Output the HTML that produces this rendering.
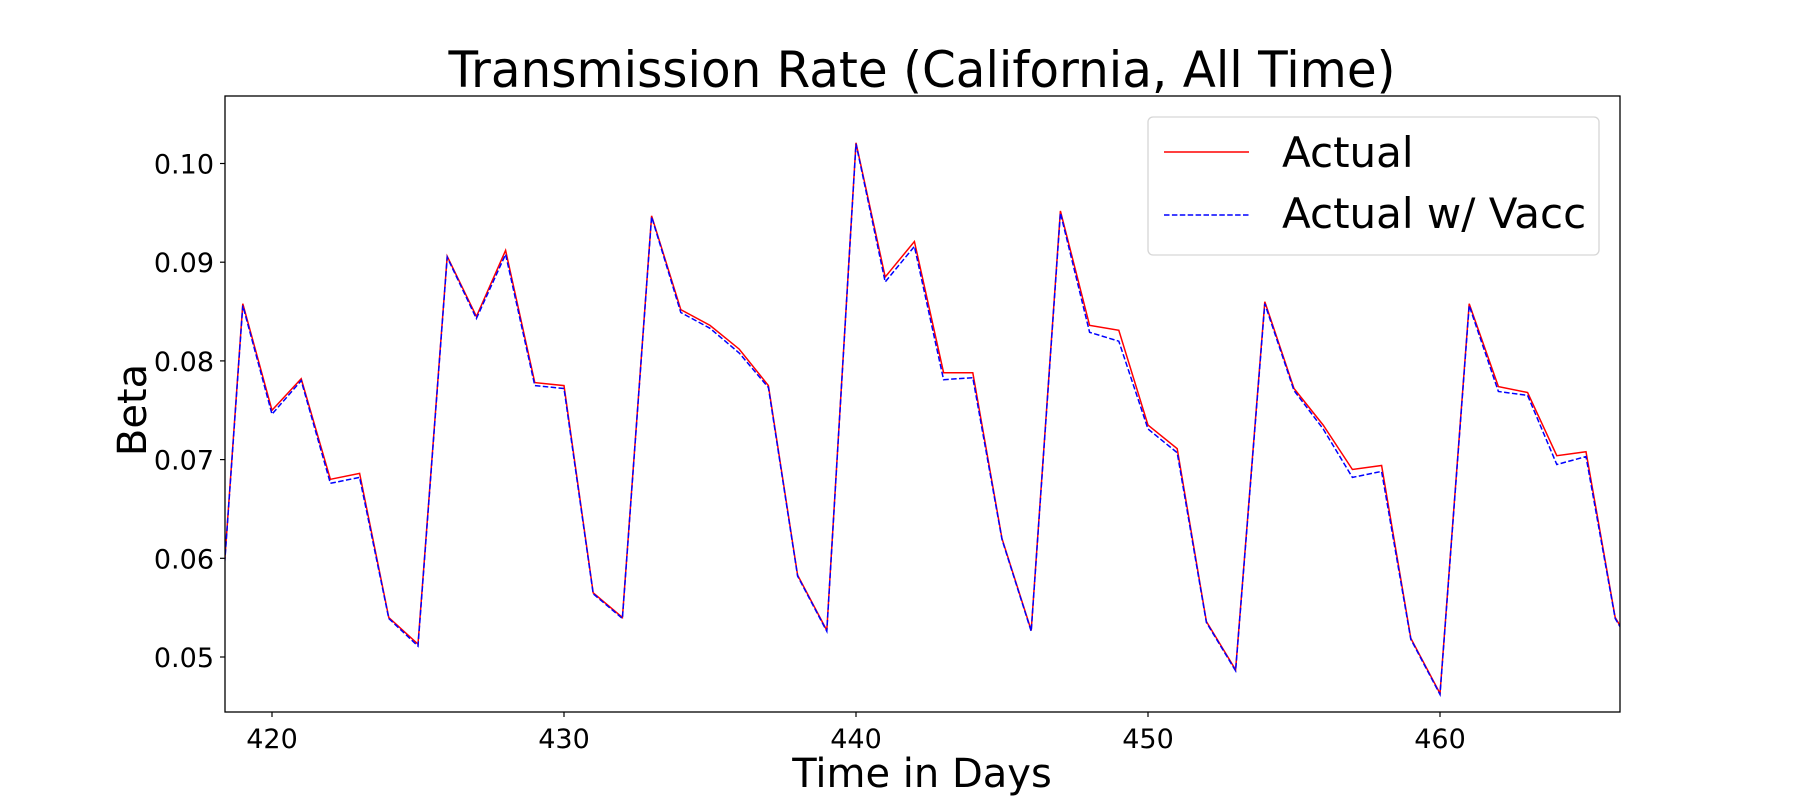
<!DOCTYPE html>
<html><head><meta charset="utf-8"><style>
html,body{margin:0;padding:0;background:#fff;}
svg text{font-family:"DejaVu Sans","Liberation Sans",sans-serif;fill:#000;}
</style></head><body>
<svg id="chart" width="1800" height="800" viewBox="0 0 1800 800" xmlns="http://www.w3.org/2000/svg">
<rect width="1800" height="800" fill="#fff"/>
<text x="922" y="87" font-size="50" text-anchor="middle" textLength="947" lengthAdjust="spacingAndGlyphs">Transmission Rate (California, All Time)</text>
<defs><clipPath id="plotclip"><rect x="225" y="96" width="1395" height="616"/></clipPath></defs>
<g id="xticks"></g>
<g id="yticks"></g>
<g id="series" clip-path="url(#plotclip)"></g>
<rect x="225" y="96" width="1395" height="616" fill="none" stroke="#000" stroke-width="1.3"/>
<text x="922" y="787" font-size="40" text-anchor="middle">Time in Days</text>
<text x="0" y="0" font-size="40" text-anchor="middle" transform="translate(146,410) rotate(-90)">Beta</text>
<g>
<rect x="1148" y="117" width="451" height="138" rx="5" fill="#fff" fill-opacity="0.8" stroke="#d6d6d6" stroke-width="1.3"/>
<line x1="1164" y1="152" x2="1249" y2="152" stroke="red" stroke-width="1.5"/>
<text x="1282" y="167" font-size="42">Actual</text>
<line x1="1164" y1="215" x2="1249" y2="215" stroke="blue" stroke-width="1.5" stroke-dasharray="5.5,2.4"/>
<text x="1282" y="228" font-size="42">Actual w/ Vacc</text>
</g>
</svg>
<script>
const days = [418,419,420,421,422,423,424,425,426,427,428,429,430,431,432,433,434,435,436,437,438,439,440,441,442,443,444,445,446,447,448,449,450,451,452,453,454,455,456,457,458,459,460,461,462,463,464,465,466,467];
const actual = [0.0437,0.0858,0.0750,0.0782,0.0680,0.0686,0.0540,0.0513,0.0906,0.0845,0.0912,0.0778,0.0775,0.0565,0.0540,0.0947,0.0852,0.0836,0.0812,0.0775,0.0583,0.0527,0.1021,0.0885,0.0921,0.0788,0.0788,0.0620,0.0527,0.0952,0.0836,0.0831,0.0735,0.0711,0.0536,0.0487,0.0860,0.0772,0.0735,0.0690,0.0694,0.0519,0.0463,0.0858,0.0774,0.0768,0.0704,0.0708,0.0540,0.0490];
const vacc = [0.0436,0.0856,0.0746,0.0780,0.0676,0.0682,0.0539,0.0511,0.0905,0.0843,0.0908,0.0775,0.0772,0.0564,0.0539,0.0946,0.0849,0.0833,0.0808,0.0773,0.0582,0.0526,0.1020,0.0880,0.0916,0.0781,0.0783,0.0619,0.0526,0.0950,0.0829,0.0820,0.0731,0.0707,0.0535,0.0486,0.0858,0.0770,0.0731,0.0682,0.0688,0.0518,0.0462,0.0856,0.0769,0.0765,0.0695,0.0703,0.0539,0.0489];
const xTickLabels = ["420","430","440","450","460"];
const xTickValues = [420,430,440,450,460];
const yTickValues = [0.05,0.06,0.07,0.08,0.09,0.10];
const yTickLabels = ["0.05","0.06","0.07","0.08","0.09","0.10"];

const NS = "http://www.w3.org/2000/svg";
function xScale(d){ return 272 + (d - 420) * 29.2; }
function yScale(v){ return 657 - (v - 0.05) * 9870; }

const xg = document.getElementById('xticks');
xTickValues.forEach((t,i)=>{
  const x = xScale(t);
  const ln = document.createElementNS(NS,'line');
  
  
  ln.setAttribute('x1',x); ln.setAttribute('x2',x);
  ln.setAttribute('y1',712); ln.setAttribute('y2',717);
  ln.setAttribute('stroke','#000'); ln.setAttribute('stroke-width','1.2');
  xg.appendChild(ln);
  const tx = document.createElementNS(NS,'text');
  
  
  tx.setAttribute('x',x); tx.setAttribute('y',748);
  tx.setAttribute('font-size','27'); tx.setAttribute('text-anchor','middle');
  tx.textContent = xTickLabels[i];
  xg.appendChild(tx);
});
const yg = document.getElementById('yticks');
yTickValues.forEach((t,i)=>{
  const y = yScale(t);
  const ln = document.createElementNS(NS,'line');
  
  
  ln.setAttribute('x1',220); ln.setAttribute('x2',225);
  ln.setAttribute('y1',y); ln.setAttribute('y2',y);
  ln.setAttribute('stroke','#000'); ln.setAttribute('stroke-width','1.2');
  yg.appendChild(ln);
  const tx = document.createElementNS(NS,'text');
  
  
  tx.setAttribute('x',214); tx.setAttribute('y',y+10);
  tx.setAttribute('font-size','27'); tx.setAttribute('text-anchor','end');
  tx.textContent = yTickLabels[i];
  yg.appendChild(tx);
});
const sg = document.getElementById('series');
function pts(arr){ return arr.map((v,i)=>xScale(days[i]).toFixed(1)+','+yScale(v).toFixed(1)).join(' '); }
const p1 = document.createElementNS(NS,'polyline');


p1.setAttribute('points',pts(actual));
p1.setAttribute('fill','none'); p1.setAttribute('stroke','red'); p1.setAttribute('stroke-width','1.5');
sg.appendChild(p1);
const p2 = document.createElementNS(NS,'polyline');


p2.setAttribute('points',pts(vacc));
p2.setAttribute('fill','none'); p2.setAttribute('stroke','blue'); p2.setAttribute('stroke-width','1.5');
p2.setAttribute('stroke-dasharray','5.5,2.4');
sg.appendChild(p2);
</script>
</body></html>
